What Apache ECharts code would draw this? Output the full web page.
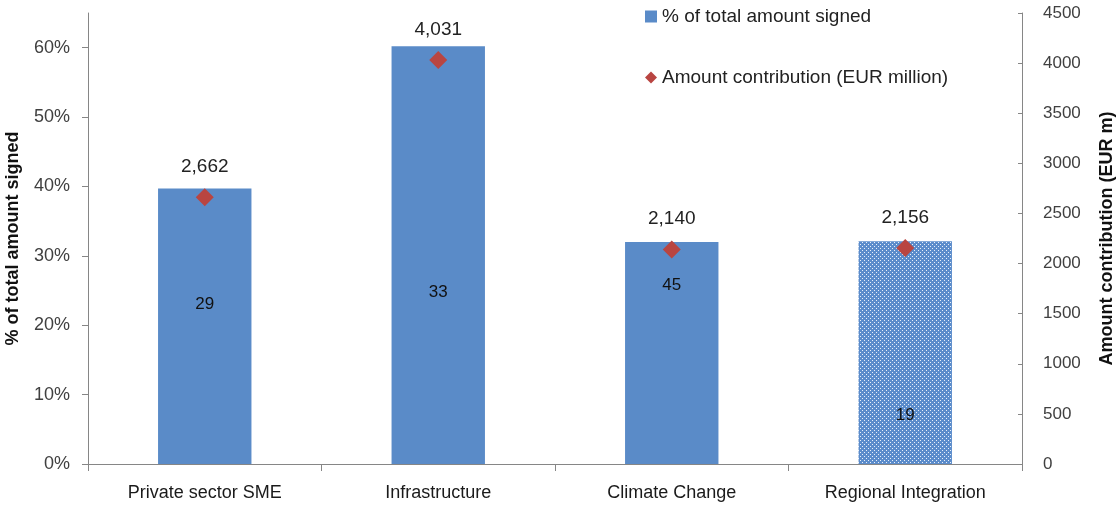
<!DOCTYPE html>
<html>
<head>
<meta charset="utf-8">
<script src="https://cdn.jsdelivr.net/npm/echarts@6/dist/echarts.min.js"></script>
<style>
html,body{margin:0;padding:0;background:#fff;}
#c{width:1116px;height:506px;}
</style>
</head>
<body>
<div id="c"></div>
<script>
const categories = ['Private sector SME', 'Infrastructure', 'Climate Change', 'Regional Integration'];
const pctSigned = [39.7, 60.2, 32.0, 32.1];
const amountEUR = [2662, 4031, 2140, 2156];
const projectCounts = [29, 33, 45, 19];
const leftTicks = [0, 10, 20, 30, 40, 50, 60];

// layout-only: vertical offsets of the count labels from bar centre
const countLabelOffsets = [-22, 37, -68, 63];

const FONT = 'Liberation Sans';
const BLUE = '#5A8BC8';
const RED = '#B94541';

function patternCanvas() {
  const c = document.createElement('canvas');
  c.width = 4; c.height = 4;
  const g = c.getContext('2d');
  g.fillStyle = '#5B8CCB';
  g.fillRect(0, 0, 4, 4);
  g.fillStyle = '#E8F0FA';
  g.fillRect(0, 0, 1, 1);
  g.fillRect(2, 2, 1, 1);
  return c;
}
const pattern = { image: patternCanvas(), repeat: 'repeat' };

function fmtThousands(v) {
  return String(v).replace(/\B(?=(\d{3})+(?!\d))/g, ',');
}

const barData = pctSigned.map((v, i) => ({
  value: v,
  itemStyle: i === 3 ? { color: pattern } : undefined,
  label: { offset: [0, countLabelOffsets[i]] }
}));

const chart = echarts.init(document.getElementById('c'), null, { renderer: 'canvas' });
chart.setOption({
  animation: false,
  textStyle: { fontFamily: FONT },
  grid: { left: 88, right: 94, top: 13, bottom: 42, outerBoundsMode: 'none', containLabel: false },
  legend: {
    orient: 'vertical',
    left: 640,
    top: 2,
    itemGap: 42,
    itemWidth: 12,
    itemHeight: 12,
    textStyle: { fontFamily: FONT, fontSize: 19, color: '#222' },
    data: [
      { name: '% of total amount signed', icon: 'rect' },
      { name: 'Amount contribution (EUR million)', icon: 'diamond' }
    ]
  },
  xAxis: {
    type: 'category',
    data: categories,
    axisLine: { lineStyle: { color: '#868686', width: 1 } },
    axisTick: { show: true, length: 7, lineStyle: { color: '#868686' } },
    axisLabel: { fontFamily: FONT, fontSize: 18, color: '#1a1a1a', margin: 20 }
  },
  yAxis: [
    {
      type: 'value',
      min: 0, max: 65,
      name: '% of total amount signed',
      nameLocation: 'middle',
      nameRotate: 90,
      nameGap: 66,
      nameTextStyle: { fontFamily: FONT, fontSize: 18, fontWeight: 'bold', color: '#111' },
      axisLine: { show: true, lineStyle: { color: '#868686' } },
      axisTick: { show: true, length: 6, customValues: leftTicks, lineStyle: { color: '#868686' } },
      axisLabel: { customValues: leftTicks, formatter: v => v + '%', fontFamily: FONT, fontSize: 18, color: '#404040', margin: 18 },
      splitLine: { show: false }
    },
    {
      type: 'value',
      min: 0, max: 4500, interval: 500,
      position: 'right',
      name: 'Amount contribution (EUR m)',
      nameLocation: 'middle',
      nameRotate: 90,
      nameGap: 76,
      nameTextStyle: { fontFamily: FONT, fontSize: 18, fontWeight: 'bold', color: '#111' },
      axisLine: { show: true, lineStyle: { color: '#868686' } },
      axisTick: { show: true, inside: true, length: 4, lineStyle: { color: '#868686' } },
      axisLabel: { formatter: v => String(v), fontFamily: FONT, fontSize: 17, color: '#404040', margin: 21 },
      splitLine: { show: false }
    }
  ],
  series: [
    {
      name: '% of total amount signed',
      type: 'bar',
      yAxisIndex: 0,
      barWidth: '40%',
      data: barData,
      itemStyle: { color: BLUE },
      label: {
        show: true,
        position: 'inside',
        formatter: p => String(projectCounts[p.dataIndex]),
        fontFamily: FONT, fontSize: 17, color: '#111'
      }
    },
    {
      name: 'Amount contribution (EUR million)',
      type: 'scatter',
      yAxisIndex: 1,
      symbol: 'diamond',
      symbolSize: 18,
      data: amountEUR,
      itemStyle: { color: RED, opacity: 1 },
      label: {
        show: true,
        position: 'top',
        distance: 12,
        formatter: p => fmtThousands(p.value),
        fontFamily: FONT, fontSize: 19, color: '#222'
      },
      z: 5
    }
  ]
});
</script>
</body>
</html>
